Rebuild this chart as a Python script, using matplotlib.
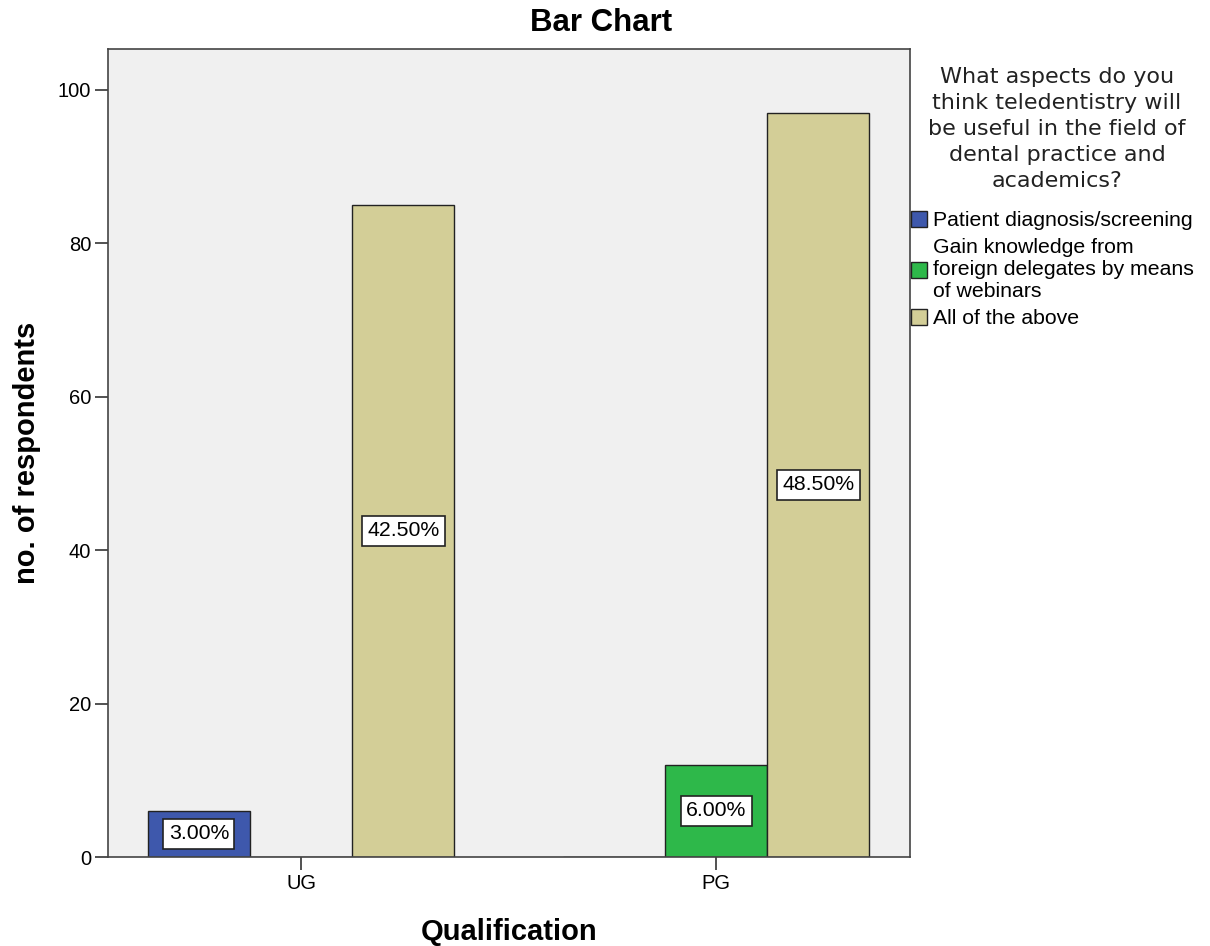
import numpy as np
import matplotlib
matplotlib.use("Agg")
import matplotlib.pyplot as plt
from matplotlib.patches import Patch

plt.rcParams['font.family'] = ['Liberation Sans', 'DejaVu Sans']

# data
qualifications = ["UG", "PG"]
aspects = ["Patient diagnosis/screening",
           "Gain knowledge from\nforeign delegates by means\nof webinars",
           "All of the above"]
counts = {
    "Patient diagnosis/screening": [6, 0],
    "Gain knowledge": [0, 12],
    "All of the above": [85, 97],
}
percent_labels = {
    "Patient diagnosis/screening": ["3.00%", ""],
    "Gain knowledge": ["", "6.00%"],
    "All of the above": ["42.50%", "48.50%"],
}
colors = ["#3e58ac", "#2eb84a", "#d3ce97"]
legend_title = "What aspects do you\nthink teledentistry will\nbe useful in the field of\ndental practice and\nacademics?"

fig = plt.figure(figsize=(12.1, 9.46), dpi=100)
ax = fig.add_axes([108 / 1210, 1 - 857 / 946, 802 / 1210, 808 / 946])
ax.set_facecolor("#f0f0f0")

x = np.arange(len(qualifications))
width = 0.246
for i, (key, col) in enumerate(zip(counts.keys(), colors)):
    xs = x + (i - 1) * width
    vals = counts[key]
    ax.bar(xs, vals, width=width, color=col, edgecolor="#222222", linewidth=1.0, zorder=2)
    for xi, v, lab in zip(xs, vals, percent_labels[key]):
        if lab:
            ax.text(xi, v / 2, lab, ha="center", va="center", fontsize=15.3, zorder=3,
                    bbox=dict(boxstyle="square,pad=0.25", facecolor="white",
                              edgecolor="#222222", linewidth=1.2))

ax.set_xlim(-0.465, 1.467)
ax.set_ylim(0, 105.3)
ax.set_xticks(x)
ax.set_xticklabels(qualifications)
ax.set_yticks([0, 20, 40, 60, 80, 100])
ax.tick_params(axis="both", labelsize=14.5, length=9.5, width=1.2, color="#333333", pad=2.5)
for sp in ax.spines.values():
    sp.set_color("#444444")
    sp.set_linewidth(1.2)

ax.set_ylabel("no. of respondents", fontsize=21, fontweight="bold", labelpad=12)
ax.set_xlabel("Qualification", fontsize=21, fontweight="bold", labelpad=18)
fig.text(0.497, 1 - 23 / 946, "Bar Chart", fontsize=22.5, fontweight="bold",
         ha="center", va="center")

# legend title drawn on its own so the gap below it can match
fig.text(1057 / 1210, 1 - 67 / 946, legend_title, ha="center", va="top",
         multialignment="center", fontsize=16, family="DejaVu Sans",
         color="#222222", linespacing=1.37)

handles = [Patch(facecolor=c, edgecolor="#222222", linewidth=1.0) for c in colors]
leg = fig.legend(handles, aspects, loc="upper left", bbox_to_anchor=(911 / 1210, 1 - 211 / 946),
                 frameon=False, fontsize=15.3,
                 handlelength=0.75, handleheight=0.75, handletextpad=0.3,
                 labelspacing=0.36, borderaxespad=0, borderpad=0)
for t in leg.get_texts():
    t.set_linespacing(1.22)

fig.savefig("out.png", dpi=100)
